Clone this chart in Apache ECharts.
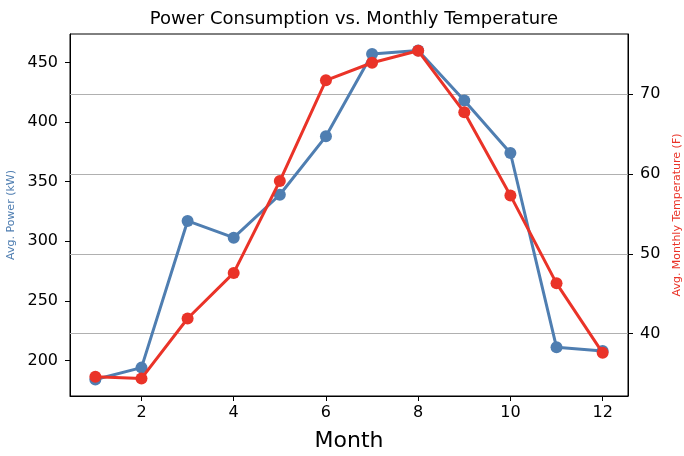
<!DOCTYPE html>
<html>
<head>
<meta charset="utf-8">
<script src="https://cdn.jsdelivr.net/npm/echarts@6/dist/echarts.min.js"></script>
<style>
html,body{margin:0;padding:0;background:#fff;}
#c{width:684px;height:456px;}
</style>
</head>
<body>
<div id="c"></div>
<script>
const months = [1,2,3,4,5,6,7,8,9,10,11,12];
const powerKW = [184,194,317,303,339,388,457,460,418,374,211,208];
const tempF = [34.6,34.4,41.9,47.6,59.1,71.7,73.9,75.4,67.7,57.3,46.3,37.6];
const xTicks = [2,4,6,8,10,12];
const powerTicks = [200,250,300,350,400,450];
const tempTicks = [40,50,60,70];

const font = 'DejaVu Sans';
const blue = '#4f7eb1';
const red = '#ea3328';

const chart = echarts.init(document.getElementById('c'), null, {renderer:'canvas'});
chart.setOption({
  animation:false,
  backgroundColor:'#fff',
  title:{
    text:'Power Consumption vs. Monthly Temperature',
    left:349, top:5, textAlign:'center',
    textStyle:{fontFamily:font,fontSize:18,fontWeight:'normal',color:'#000'}
  },
  grid:{left:70,right:56,top:34,bottom:60,containLabel:false,outerBoundsMode:'none',
        show:true,borderColor:'#000',borderWidth:1,backgroundColor:'transparent'},
  xAxis:{
    type:'value', min:0.45, max:12.55,
    name:'Month', nameLocation:'middle', nameGap:34,
    nameTextStyle:{fontFamily:font,fontSize:22,color:'#000'},
    axisLine:{show:true,lineStyle:{color:'#000',width:1}},
    axisTick:{show:true,length:5,inside:false,customValues:xTicks,lineStyle:{color:'#000'}},
    axisLabel:{customValues:xTicks,fontFamily:font,fontSize:16,color:'#000',margin:9},
    splitLine:{show:false}
  },
  yAxis:[{
    type:'value', min:170.2, max:473.8, position:'left',
    name:'Avg. Power (kW)', nameLocation:'middle', nameGap:48, nameRotate:90,
    nameTextStyle:{fontFamily:font,fontSize:11,color:blue},
    axisLine:{show:true,lineStyle:{color:'#000',width:1}},
    axisTick:{show:true,length:5,inside:false,customValues:powerTicks,lineStyle:{color:'#000'}},
    axisLabel:{customValues:powerTicks,fontFamily:font,fontSize:16,color:'#000',margin:12},
    splitLine:{show:false}
  },{
    type:'value', min:32.2, max:77.5, position:'right',
    name:'Avg. Monthly Temperature (F)', nameLocation:'middle', nameGap:39, nameRotate:90,
    nameTextStyle:{fontFamily:font,fontSize:11,color:red},
    axisLine:{show:true,lineStyle:{color:'#000',width:1}},
    axisTick:{show:true,length:5,inside:false,customValues:tempTicks,lineStyle:{color:'#000'}},
    axisLabel:{customValues:tempTicks,fontFamily:font,fontSize:16,color:'#000',margin:12},
    splitLine:{show:false}
  }],
  series:[{
    type:'line', name:'Power', yAxisIndex:0, z:3,
    data:months.map((m,i)=>[m,powerKW[i]]),
    symbol:'circle', symbolSize:12,
    lineStyle:{color:blue,width:3},
    itemStyle:{color:blue}
  },{
    type:'line', name:'Temp', yAxisIndex:1, z:4,
    data:months.map((m,i)=>[m,tempF[i]]),
    symbol:'circle', symbolSize:12,
    lineStyle:{color:red,width:3},
    itemStyle:{color:red},
    markLine:{
      silent:true, symbol:['none','none'], label:{show:false}, z:1,
      lineStyle:{color:'#b0b0b0',width:1.2,type:'solid'},
      data:tempTicks.map(v=>({yAxis:v}))
    }
  }]
});
</script>
</body>
</html>
